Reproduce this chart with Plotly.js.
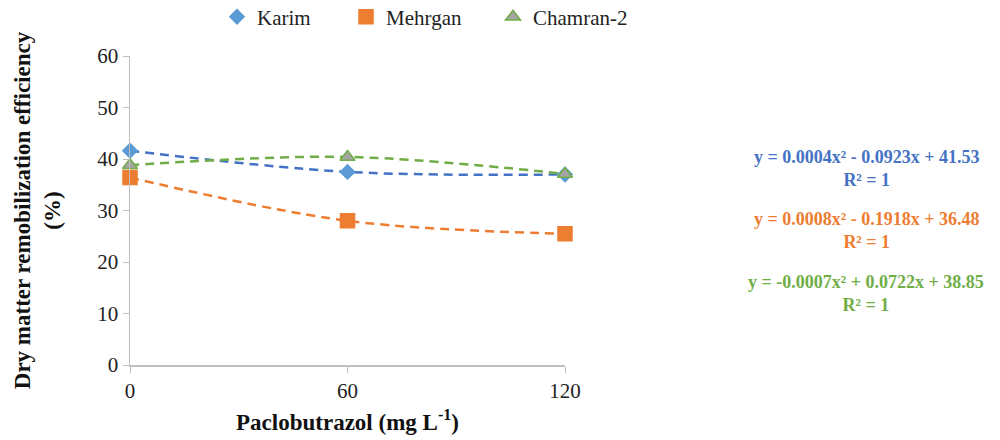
<!DOCTYPE html>
<html>
<head>
<meta charset="utf-8">
<script src="https://cdn.plot.ly/plotly-3.0.1.min.js"></script>
<style>html,body{margin:0;padding:0;background:#fff}#chart{width:1000px;height:440px}</style>
</head>
<body>
<div id="chart"></div>
<script>
// Data
const doses = [0, 60, 120];
const karim = [41.6, 37.5, 37.0];
const mehrgan = [36.4, 28.0, 25.5];
const chamran2 = [38.8, 40.4, 37.1];
const seriesNames = ['Karim', 'Mehrgan', 'Chamran-2'];
const equations = [
  'y = 0.0004x² - 0.0923x + 41.53<br>R² = 1',
  'y = 0.0008x² - 0.1918x + 36.48<br>R² = 1',
  'y = -0.0007x² + 0.0722x + 38.85<br>R² = 1'
];
const xTicks = [0, 60, 120];
const yTicks = [0, 10, 20, 30, 40, 50, 60];

const FONT = 'Liberation Serif';
const dashPat = '9px,6px';

function trend(y, color) {
  return {x: doses, y: y, mode: 'lines', type: 'scatter', showlegend: false, hoverinfo: 'skip',
    line: {color: color, width: 2.5, dash: dashPat, shape: 'spline', smoothing: 1}, cliponaxis: false};
}
function pts(y, name, symbol, fill, lineColor, size, legendId) {
  return {x: doses, y: y, mode: 'markers', type: 'scatter', name: name, cliponaxis: false, legend: legendId,
    marker: {symbol: symbol, size: size, color: fill, line: {color: lineColor, width: 1.5}}};
}

const data = [
  trend(karim, '#4472C4'),
  trend(mehrgan, '#ED7D31'),
  trend(chamran2, '#70AD47'),
  pts(karim, seriesNames[0], 'diamond', '#5B9BD5', '#5B9BD5', 11, 'legend'),
  pts(mehrgan, seriesNames[1], 'square', '#ED7D31', '#ED7D31', 14, 'legend2'),
  pts(chamran2, seriesNames[2], 'triangle-up', '#A5A5A5', '#70AD47', 13, 'legend3')
];

const eqColors = ['#4472C4', '#ED7D31', '#70AD47'];
const eqY = [0.636, 0.434, 0.23];
const annotations = equations.map((t, i) => ({
  text: '<b>' + t + '</b>', xref: 'paper', yref: 'paper', x: 1.692, y: eqY[i],
  xanchor: 'center', yanchor: 'middle', showarrow: false, align: 'center',
  font: {family: FONT, size: 18, color: eqColors[i]}
}));

function leg(x) {
  return {orientation: 'h', x: x, xanchor: 'left', y: 1.126, yanchor: 'middle',
    font: {family: FONT, size: 21, color: '#222'}, bgcolor: 'rgba(0,0,0,0)'};
}

const layout = {
  width: 1000, height: 440,
  margin: {l: 130, r: 435, t: 56, b: 75, autoexpand: false},
  paper_bgcolor: '#fff', plot_bgcolor: '#fff',
  font: {family: FONT, size: 21, color: '#222'},
  showlegend: true,
  legend: leg(0.2),
  legend2: leg(0.4966),
  legend3: leg(0.8345),
  xaxis: {range: [0, 120], tickvals: xTicks, ticktext: xTicks.map(String), showgrid: false, zeroline: false,
    showline: true, linecolor: '#BFBFBF', linewidth: 1.5, ticks: 'outside', ticklen: 6, tickcolor: '#BFBFBF',
    tickfont: {family: FONT, size: 21, color: '#222'},
    title: {text: '<b>Paclobutrazol (mg L<sup>-1</sup>)</b>', font: {family: FONT, size: 23, color: '#111'}, standoff: 12}},
  yaxis: {range: [0, 60], tickvals: yTicks, showgrid: false, zeroline: false,
    showline: true, linecolor: '#BFBFBF', linewidth: 1.5, ticks: 'outside', ticklen: 6, tickcolor: '#BFBFBF',
    tickfont: {family: FONT, size: 21, color: '#222'},
    title: {text: '<b>Dry matter remobilization efficiency<br>(%)</b>', font: {family: FONT, size: 23, color: '#111'}, standoff: 30}},
  annotations: annotations
};

Plotly.newPlot('chart', data, layout, {displayModeBar: false, staticPlot: true});
</script>
</body>
</html>
